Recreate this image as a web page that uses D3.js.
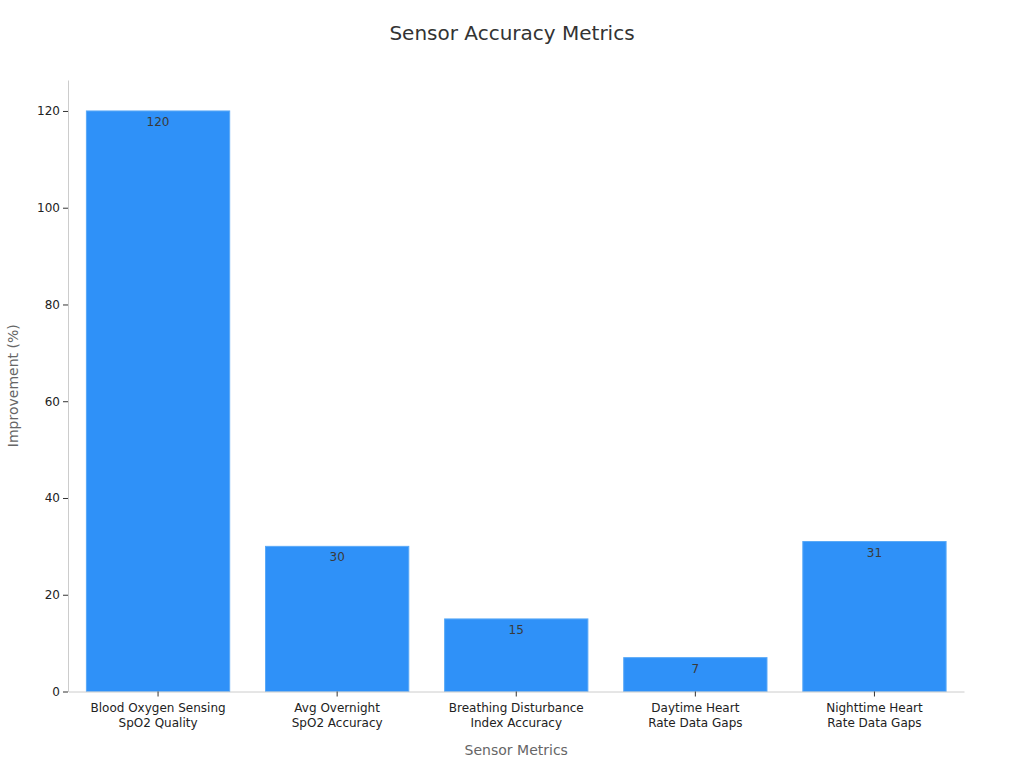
<!DOCTYPE html>
<html>
<head>
	<meta charset="utf-8">
	<title>Sensor Accuracy Metrics</title>
	<script type="text/javascript" src="https://cdn.jsdelivr.net/npm/d3@7"></script>
	<style>
		body {
			margin: 0;
			font-family: "DejaVu Sans", sans-serif;
			background: #fff;
		}
	</style>
</head>

<body>

	<div id="chart"></div>

	<script>

		// data

		const categories = [
			"Blood Oxygen Sensing\nSpO2 Quality",
			"Avg Overnight\nSpO2 Accuracy",
			"Breathing Disturbance\nIndex Accuracy",
			"Daytime Heart\nRate Data Gaps",
			"Nighttime Heart\nRate Data Gaps"
		];
		const values = [120, 30, 15, 7, 31];
		const yTicks = [0, 20, 40, 60, 80, 100, 120];

		const width = 1024;
		const height = 768;
		const margin = { top: 80, right: 60, bottom: 76.5, left: 68.5 };

		const svg = d3.select("#chart")
			.append("svg")
			.attr("width", width)
			.attr("height", height)
			.attr("font-family", "DejaVu Sans, sans-serif");

		const x = d3.scaleBand()
			.domain(categories)
			.range([margin.left, width - margin.right])
			.paddingInner(0.2)
			.paddingOuter(0.1);

		const y = d3.scaleLinear()
			.domain([0, 126.4])
			.range([height - margin.bottom, margin.top]);

		// title
		svg.append("text")
			.attr("x", width / 2)
			.attr("y", 40)
			.attr("text-anchor", "middle")
			.attr("font-size", 20)
			.attr("fill", "#333")
			.text("Sensor Accuracy Metrics");

		// bars
		svg.append("g")
			.selectAll("rect")
			.data(values)
			.join("rect")
			.attr("x", (d, i) => x(categories[i]))
			.attr("y", d => y(d))
			.attr("width", x.bandwidth())
			.attr("height", d => y(0) - y(d))
			.attr("fill", "#2f91f8")
			.attr("stroke", "#5aa9f7")
			.attr("stroke-width", 1);

		// value labels
		svg.append("g")
			.selectAll("text")
			.data(values)
			.join("text")
			.attr("x", (d, i) => x(categories[i]) + x.bandwidth() / 2)
			.attr("y", d => y(d) + 15)
			.attr("text-anchor", "middle")
			.attr("font-size", 12)
			.attr("fill", "#3a3a3a")
			.text(d => d);

		// y axis
		const yAxis = svg.append("g")
			.attr("transform", `translate(${margin.left - 0.5},0)`)
			.call(d3.axisLeft(y).tickValues(yTicks).tickSize(5).tickSizeOuter(0).tickPadding(3));
		yAxis.select(".domain").attr("stroke", "#ccc");
		yAxis.selectAll(".tick line").attr("stroke", "#333");
		yAxis.selectAll(".tick text")
			.attr("font-size", 12)
			.attr("font-family", "DejaVu Sans, sans-serif")
			.attr("fill", "#222");

		// x axis
		const xAxis = svg.append("g")
			.attr("transform", `translate(0,${height - margin.bottom})`)
			.call(d3.axisBottom(x).tickSize(5).tickSizeOuter(0).tickPadding(7));
		xAxis.select(".domain").attr("stroke", "#ccc");
		xAxis.selectAll(".tick line").attr("stroke", "#333");
		xAxis.selectAll(".tick text").each(function (d) {
			const t = d3.select(this);
			const lines = d.split("\n");
			t.text(null)
				.attr("font-size", 12)
				.attr("font-family", "DejaVu Sans, sans-serif")
				.attr("fill", "#222");
			lines.forEach((line, i) => {
				t.append("tspan")
					.attr("x", 0)
					.attr("dy", i === 0 ? "0.71em" : "1.25em")
					.text(line);
			});
		});

		// axis titles
		svg.append("text")
			.attr("x", (margin.left + width - margin.right) / 2)
			.attr("y", 755)
			.attr("text-anchor", "middle")
			.attr("font-size", 14)
			.attr("fill", "#666")
			.text("Sensor Metrics");

		svg.append("text")
			.attr("transform", `translate(18,${(margin.top + height - margin.bottom) / 2}) rotate(-90)`)
			.attr("text-anchor", "middle")
			.attr("font-size", 14)
			.attr("fill", "#666")
			.text("Improvement (%)");

	</script>

</body>

</html>
